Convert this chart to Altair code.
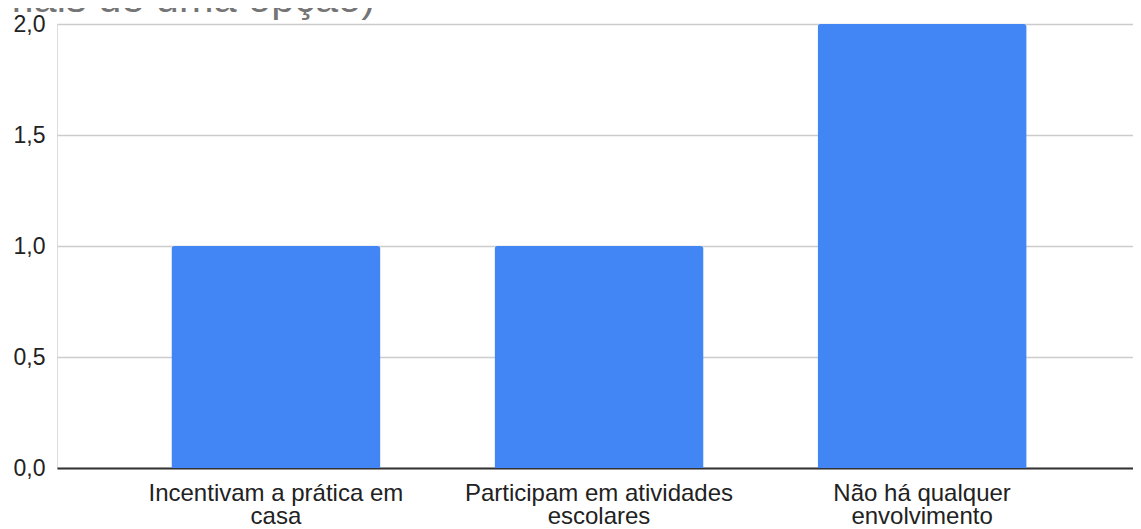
import altair as alt
import pandas as pd

categories = ["Incentivam a prática em casa", "Participam em atividades escolares", "Não há qualquer envolvimento"]
label_lines = [["Incentivam a prática em", "casa"], ["Participam em atividades", "escolares"], ["Não há qualquer", "envolvimento"]]
values = [1, 1, 2]
title_line = "mais de uma opção)"
y_ticks = [0, 0.5, 1.0, 1.5, 2.0]

df = pd.DataFrame({"cat": categories, "val": values})
title_df = pd.DataFrame({"t": [title_line]})

expr_parts = []
for c, lines in zip(categories, label_lines):
    arr = "[" + ",".join("'" + s + "'" for s in lines) + "]"
    expr_parts.append(f"datum.value == '{c}' ? {arr} : ")
label_expr = "".join(expr_parts) + "datum.label"

FONT = "Liberation Sans"

bars = alt.Chart(df).mark_bar(
    color="#4285F4", cornerRadiusTopLeft=3, cornerRadiusTopRight=3
).encode(
    x=alt.X("cat:N", sort=categories,
            scale=alt.Scale(paddingInner=0.353, paddingOuter=0.354, range=[0, 1084]),
            axis=alt.Axis(title=None, labelAngle=0, ticks=False, labelExpr=label_expr,
                          labelFont=FONT, labelFontSize=24, labelColor="#222222",
                          labelPadding=13, labelLineHeight=23, labelLimit=500,
                          domainColor="#333333", domainWidth=2, grid=False)),
    y=alt.Y("val:Q", scale=alt.Scale(domain=[0, 2], nice=False),
            axis=alt.Axis(title=None, values=y_ticks, ticks=False, domain=False,
                          labelExpr="replace(format(datum.value, '.1f'), '.', ',')",
                          labelFont=FONT, labelFontSize=23, labelColor="#222222",
                          labelPadding=12, gridColor="#cccccc", gridWidth=1.5)),
)

title = alt.Chart(title_df).mark_text(
    align="left", baseline="alphabetic", font=FONT, fontSize=41.5, color="#757575"
).encode(
    x=alt.value(-58), y=alt.value(-12), text="t:N"
)

chart = alt.layer(bars, title).properties(
    width=1076, height=444,
    padding={"left": 49, "top": 16, "right": 0, "bottom": 61},
    autosize=alt.AutoSizeParams(type="none"),
).configure_view(stroke=None).configure(background="white")

chart.save("out.html", embed_options={"renderer": "svg", "actions": False})
